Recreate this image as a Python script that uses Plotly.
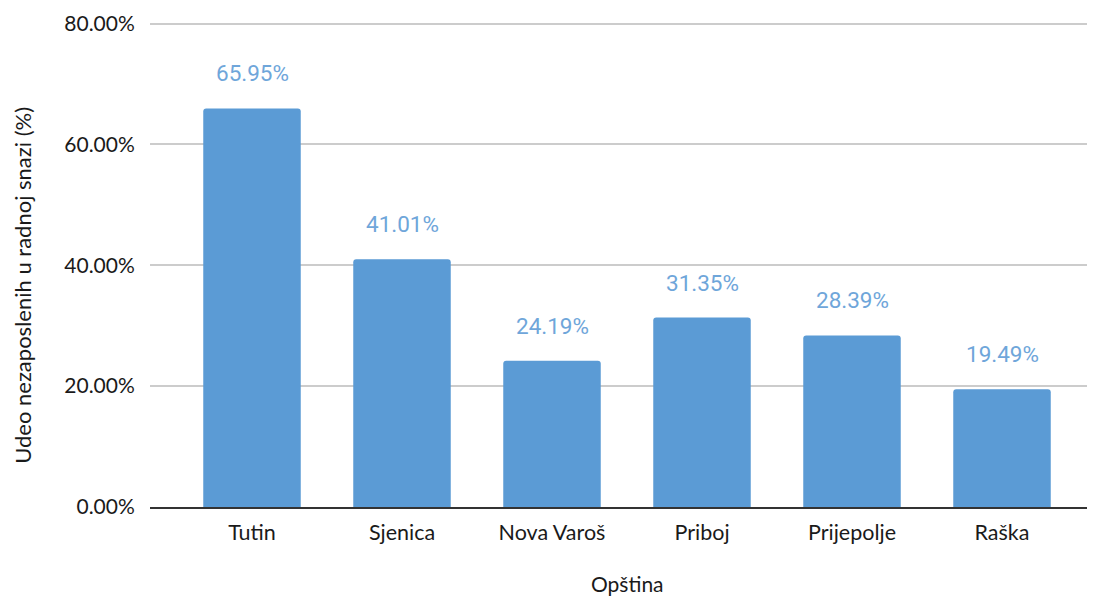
import plotly.graph_objects as go

categories = ["Tutin", "Sjenica", "Nova Varoš", "Priboj", "Prijepolje", "Raška"]
values = [65.95, 41.01, 24.19, 31.35, 28.39, 19.49]
y_ticks = [0, 20, 40, 60, 80]
y_tick_labels = ["0.00%", "20.00%", "40.00%", "60.00%", "80.00%"]

bar_color = "#5b9bd5"
label_color = "#6fa6da"
text_color = "#1a1a1a"

fig = go.Figure()
fig.add_trace(go.Bar(
    x=list(range(len(categories))),
    y=values,
    width=0.65,
    marker=dict(color=bar_color, line=dict(width=0), cornerradius=3),
    hoverinfo="skip",
))

for i, v in enumerate(values):
    fig.add_annotation(
        x=i, y=v, text=f"{v:.2f}%", showarrow=False,
        yshift=35, yanchor="middle",
        font=dict(family="Roboto", size=22.5, color=label_color),
    )

# axis titles as annotations for precise placement
fig.add_annotation(
    xref="paper", yref="paper", x=-0.1345, y=0.458,
    text="Udeo nezaposlenih u radnoj snazi (%)", textangle=-90,
    showarrow=False, xanchor="center", yanchor="middle", borderpad=0,
    font=dict(family="Lato", size=22, color=text_color),
)
fig.add_annotation(
    xref="paper", yref="paper", x=0.505, y=-0.157,
    text="Opština", showarrow=False, xanchor="center", yanchor="middle", borderpad=0,
    font=dict(family="Lato", size=21, color=text_color),
)

fig.update_layout(
    width=1087, height=589,
    margin=dict(l=142, r=0, t=14, b=90),
    paper_bgcolor="white", plot_bgcolor="white",
    showlegend=False,
    font=dict(family="Lato", size=21, color=text_color),
    xaxis=dict(
        range=[-0.68, 5.62],
        tickmode="array",
        tickvals=list(range(len(categories))),
        ticktext=categories,
        showgrid=False, zeroline=False,
        showline=True, linecolor="#333333", linewidth=1.5,
        ticks="outside", ticklen=5, tickcolor="rgba(0,0,0,0)",
        tickfont=dict(family="Lato", size=21.5, color=text_color),
    ),
    yaxis=dict(
        range=[0, 80.25],
        tickmode="array",
        tickvals=y_ticks,
        ticktext=y_tick_labels,
        showgrid=True, gridcolor="#cccccc", gridwidth=1.5,
        zeroline=False, showline=False,
        ticks="outside", ticklen=10, tickcolor="rgba(0,0,0,0)",
        tickfont=dict(family="Lato", size=21, color=text_color),
    ),
)

fig.write_html("out.html")
